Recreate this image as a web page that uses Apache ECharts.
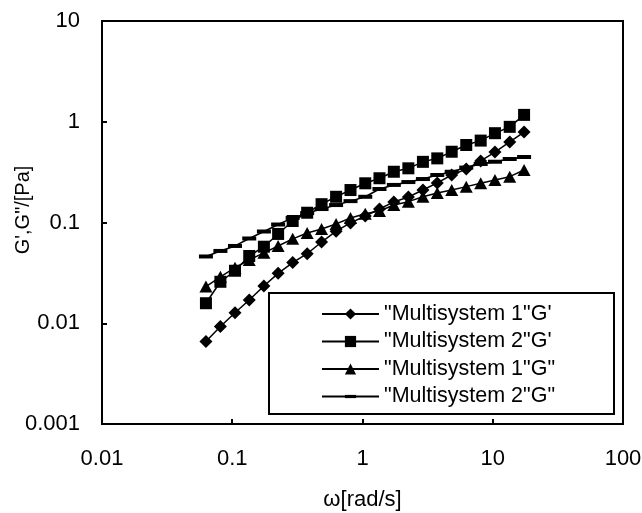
<!DOCTYPE html>
<html>
<head>
<meta charset="utf-8">
<script src="https://cdn.jsdelivr.net/npm/echarts@6/dist/echarts.min.js"></script>
<style>html,body{margin:0;padding:0;background:#fff;}#c{width:642px;height:513px;}</style>
</head>
<body>
<div id="c"></div>
<script>
var omega = [0.0628, 0.0811, 0.105, 0.135, 0.175, 0.225, 0.291, 0.376, 0.485, 0.627, 0.809, 1.05, 1.35, 1.74, 2.25, 2.91, 3.75, 4.84, 6.26, 8.08, 10.4, 13.5, 17.4];
var m1Gp = [0.0066, 0.0093, 0.0127, 0.017, 0.0234, 0.0313, 0.040, 0.049, 0.064, 0.082, 0.099, 0.116, 0.136, 0.160, 0.179, 0.21, 0.247, 0.296, 0.339, 0.408, 0.50, 0.63, 0.79];
var m2Gp = [0.0158, 0.0258, 0.0332, 0.0465, 0.0575, 0.077, 0.1035, 0.125, 0.152, 0.18, 0.21, 0.245, 0.275, 0.319, 0.345, 0.40, 0.433, 0.504, 0.588, 0.65, 0.77, 0.89, 1.17];
var m1Gpp = [0.0231, 0.0289, 0.0356, 0.0425, 0.050, 0.0585, 0.0688, 0.0787, 0.0863, 0.0968, 0.111, 0.122, 0.130, 0.149, 0.161, 0.180, 0.196, 0.210, 0.227, 0.245, 0.264, 0.285, 0.332];
var m2Gpp = [0.046, 0.0522, 0.0585, 0.0694, 0.0814, 0.0955, 0.111, 0.124, 0.136, 0.149, 0.163, 0.18, 0.215, 0.236, 0.252, 0.27, 0.296, 0.319, 0.351, 0.381, 0.401, 0.427, 0.447];
var seriesNames = ['"Multisystem 1"G\'', '"Multisystem 2"G\'', '"Multisystem 1"G"', '"Multisystem 2"G"'];
var xTickLabels = ['0.01', '0.1', '1', '10', '100'];
var yTickLabels = ['0.001', '0.01', '0.1', '1', '10'];
var xTitle = 'ω[rad/s]';
var yTitle = 'G\',G"/[Pa]';

function pairs(ys) { return omega.map(function (x, i) { return [x, ys[i]]; }); }
var FONT = '"Liberation Sans", Arial, sans-serif';
var chart = echarts.init(document.getElementById('c'), null, { renderer: 'canvas' });
function mk(name, data, symbol, size) {
  return {
    name: name, type: 'line', data: pairs(data), symbol: symbol, symbolSize: size,
    lineStyle: { color: '#000', width: 1.5 }, itemStyle: { color: '#000' },
    showAllSymbol: true, animation: false, z: 2
  };
}
chart.setOption({
  backgroundColor: '#fff',
  animation: false,
  grid: { left: 102, right: 19, top: 21, bottom: 89, containLabel: false, outerBoundsMode: 'none',
    show: true, borderColor: '#000', borderWidth: 2, backgroundColor: 'transparent' },
  xAxis: {
    type: 'log', logBase: 10, min: 0.01, max: 100,
    name: xTitle, nameLocation: 'middle', nameGap: 65,
    nameTextStyle: { color: '#000', fontSize: 22, fontFamily: FONT },
    axisLine: { lineStyle: { color: '#000', width: 2 } },
    axisTick: { inside: true, length: 5, lineStyle: { color: '#000', width: 2 } },
    minorTick: { show: false },
    splitLine: { show: false },
    axisLabel: { color: '#000', fontSize: 22, fontFamily: FONT, margin: 24,
      formatter: function (v) { return xTickLabels[Math.round(Math.log10(v)) + 2]; } }
  },
  yAxis: {
    type: 'log', logBase: 10, min: 0.001, max: 10,
    axisLine: { lineStyle: { color: '#000', width: 2 } },
    axisTick: { inside: true, length: 5, lineStyle: { color: '#000', width: 2 } },
    splitLine: { show: false },
    axisLabel: { color: '#000', fontSize: 22, fontFamily: FONT, margin: 22,
      formatter: function (v) { return yTickLabels[Math.round(Math.log10(v)) + 3]; } }
  },
  graphic: [{
    type: 'rect', z: 3, shape: { x: 269, y: 293, width: 345, height: 121 },
    style: { fill: '#fff', stroke: '#000', lineWidth: 2 }
  }, {
    type: 'text', z: 3, x: 23, y: 210, rotation: Math.PI / 2,
    style: { text: yTitle, fill: '#000', fontSize: 20, fontFamily: FONT, align: 'center', verticalAlign: 'middle' }
  }],
  legend: {
    orient: 'vertical', left: 321, top: 303, padding: 0,
    itemWidth: 57, itemHeight: 14, itemGap: 5.5, z: 5,
    textStyle: { color: '#000', fontSize: 21.5, fontFamily: FONT, lineHeight: 21 },
    data: seriesNames
  },
  series: [
    mk(seriesNames[0], m1Gp, 'diamond', [13, 13]),
    mk(seriesNames[1], m2Gp, 'rect', [12, 12]),
    mk(seriesNames[2], m1Gpp, 'triangle', [13, 12]),
    mk(seriesNames[3], m2Gpp, 'path://M0,0M0,14M0,5H14V9H0Z', 14)
  ]
});
</script>
</body>
</html>
